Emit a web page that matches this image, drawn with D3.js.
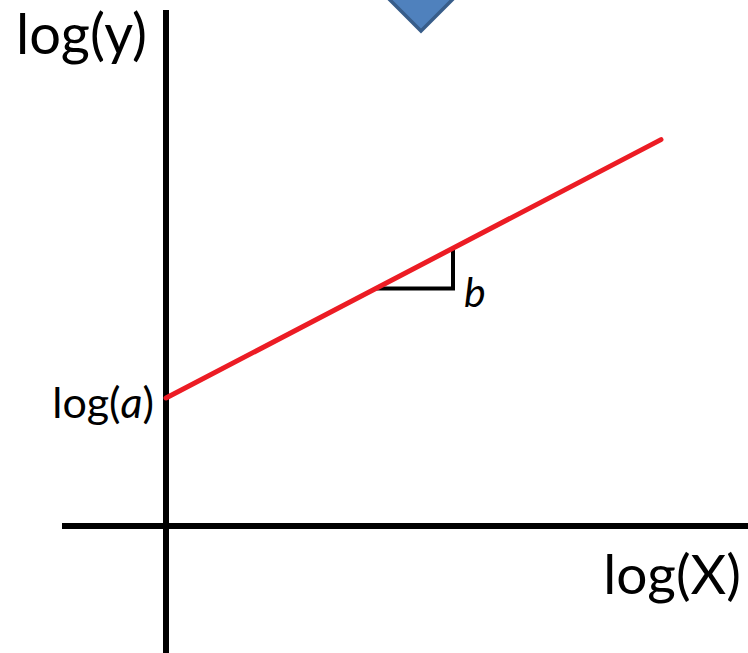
<!DOCTYPE html>
<html>
<head>
<meta charset="utf-8">
<script src="https://cdn.jsdelivr.net/npm/d3@7"></script>
<style>
  html, body { margin: 0; padding: 0; background: #fff; }
  svg { display: block; }
</style>
</head>
<body>
<svg id="chart" width="748" height="653"></svg>
<script>
// Log-log linear relationship: log(y) = log(a) + b * log(X)
const logA = [2.56];            // intercept on the log(y) axis
const slopeB = [0.522];         // slope b
const lineX = [0, 9.9];         // log(X) span of the fitted line
const stepX = [4.2, 5.74];      // slope triangle run
const xAxisSpan = [-2.08, 11.64];
const yAxisSpan = [-2.54, 10.32];
const axisLabels = ["log(X)", "log(y)"];
const interceptLabel = ["log(", "a", ")"];
const slopeLabel = ["b"];

const svg = d3.select("#chart");
const x = d3.scaleLinear().domain([0, 10]).range([166, 666]);
const y = d3.scaleLinear().domain([0, 10]).range([526, 26]);
const font = "Lato, 'Open Sans', sans-serif";

// blue marker at top
const cx = 421, tipY = 31, half = 60;
svg.append("path")
  .attr("d", `M${cx - half},${tipY - half} L${cx},${tipY} L${cx + half},${tipY - half} L${cx},${tipY - 2 * half} Z`)
  .attr("fill", "#4f81bd")
  .attr("stroke", "#385d8a")
  .attr("stroke-width", 3.5);

// axes
svg.append("line")
  .attr("x1", x(xAxisSpan[0])).attr("x2", x(xAxisSpan[1]))
  .attr("y1", y(0)).attr("y2", y(0))
  .attr("stroke", "#000").attr("stroke-width", 6);
svg.append("line")
  .attr("x1", x(0)).attr("x2", x(0))
  .attr("y1", y(yAxisSpan[0])).attr("y2", y(yAxisSpan[1]))
  .attr("stroke", "#000").attr("stroke-width", 6);

// slope triangle
const f = v => logA[0] + slopeB[0] * v;
svg.append("path")
  .attr("d", d3.line()([
    [x(stepX[0]), y(f(stepX[0]))],
    [x(stepX[1]), y(f(stepX[0]))],
    [x(stepX[1]), y(f(stepX[1]))]
  ]))
  .attr("fill", "none")
  .attr("stroke", "#000")
  .attr("stroke-width", 4);

// fitted line
svg.append("path")
  .attr("d", d3.line()(lineX.map(v => [x(v), y(f(v))])))
  .attr("fill", "none")
  .attr("stroke", "#ec1c24")
  .attr("stroke-width", 5)
  .attr("stroke-linecap", "round");

// labels
svg.append("text")
  .attr("x", 16).attr("y", 54)
  .attr("font-family", font).attr("font-size", 56)
  .attr("fill", "#000")
  .text(axisLabels[1]);

svg.append("text")
  .attr("x", 741).attr("y", 594)
  .attr("text-anchor", "end")
  .attr("font-family", font).attr("font-size", 55)
  .attr("fill", "#000")
  .text(axisLabels[0]);

const ia = svg.append("text")
  .attr("x", 154).attr("y", 418)
  .attr("text-anchor", "end")
  .attr("font-family", font).attr("font-size", 43)
  .attr("fill", "#000");
ia.append("tspan").text(interceptLabel[0]);
ia.append("tspan").attr("font-style", "italic").text(interceptLabel[1]);
ia.append("tspan").text(interceptLabel[2]);

svg.append("text")
  .attr("x", x(stepX[1]) + 11).attr("y", 307)
  .attr("font-family", font).attr("font-size", 41)
  .attr("font-style", "italic")
  .attr("fill", "#000")
  .text(slopeLabel[0]);
</script>
</body>
</html>
